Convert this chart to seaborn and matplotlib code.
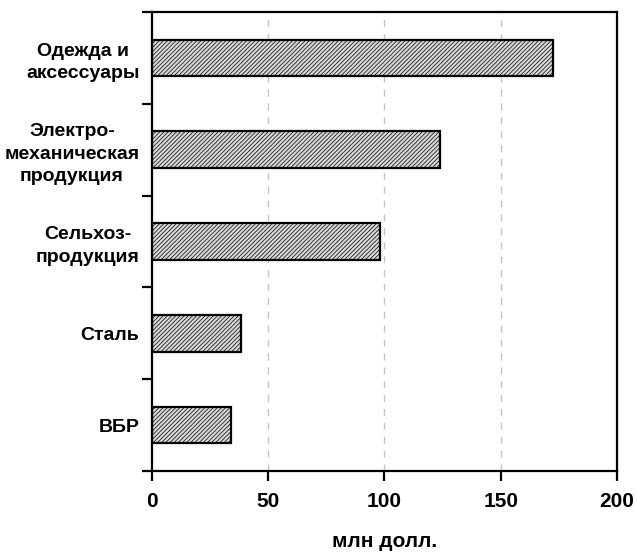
import pandas as pd
import matplotlib
matplotlib.use("Agg")
import matplotlib.pyplot as plt
import seaborn as sns

# data
categories = ["Одежда и\nаксессуары", "Электро-\nмеханическая\nпродукция",
              "Сельхоз-\nпродукция", "Сталь", "ВБР"]
values = [172.5, 124, 98, 38.3, 34]
x_ticks = [0, 50, 100, 150, 200]

sns.set_style("white")
plt.rcParams["font.family"] = ["Liberation Sans", "DejaVu Sans"]
plt.rcParams["font.weight"] = "bold"
plt.rcParams["text.color"] = "black"
plt.rcParams["xtick.color"] = "black"
plt.rcParams["ytick.color"] = "black"
plt.rcParams["axes.labelcolor"] = "black"
plt.rcParams["hatch.linewidth"] = 0.5
plt.rcParams["hatch.color"] = "#333333"

df = pd.DataFrame({"cat": categories, "val": values})

fig = plt.figure(figsize=(6.37, 5.53), dpi=100)
ax = fig.add_axes([0.2386, 0.1483, 0.7300, 0.8300])

sns.barplot(data=df, x="val", y="cat", orient="h", width=0.4,
            color="#d8d8d8", edgecolor="black", linewidth=1.6, ax=ax)
for p in ax.patches:
    p.set_hatch("////////")

ax.set_xlim(0, 200)
ax.set_ylim(4.5, -0.5)
ax.set_xticks(x_ticks)
ax.set_xticklabels([str(t) for t in x_ticks], fontsize=15, fontweight="bold")
ax.tick_params(axis="x", direction="out", length=7, width=1.6, pad=8,
               bottom=True)

# labels at category centers, tick marks between categories
ax.set_yticks(range(len(categories)))
ax.set_yticklabels(categories, fontsize=14, fontweight="bold",
                   multialignment="center", linespacing=1.42)
ax.set_yticks([i - 0.5 for i in range(len(categories) + 1)], minor=True)
ax.tick_params(axis="y", which="major", length=0, pad=9)
ax.tick_params(axis="y", which="minor", direction="out", length=7,
               width=1.6, left=True)

for x in x_ticks[1:-1]:
    ax.axvline(x, color="#c4c4c4", linestyle=(0, (5, 5)), linewidth=1.0,
               zorder=0)

for s in ax.spines.values():
    s.set_visible(True)
    s.set_color("black")
    s.set_linewidth(1.6)

ax.set_ylabel("")
ax.set_xlabel("млн долл.", fontsize=15, fontweight="bold", labelpad=15)

fig.savefig("out.png", dpi=100)
